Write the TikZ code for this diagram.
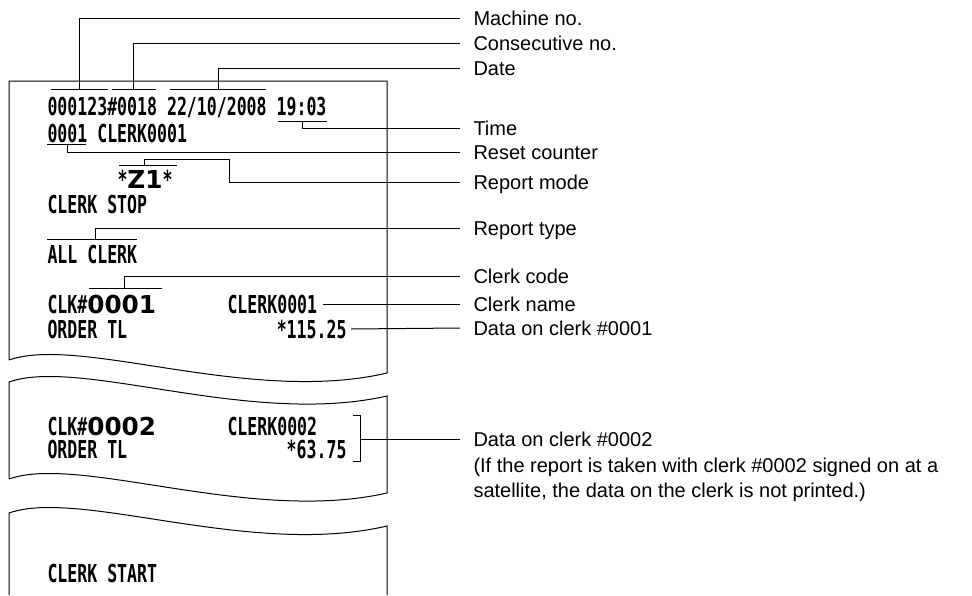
\documentclass[tikz,border=0pt]{standalone}
\usepackage{fontspec}
\usepackage{tikz}
\setmainfont{Liberation Sans}
\newfontfamily\rcptfont[FakeStretch=0.67]{DejaVu Sans Mono}
\newfontfamily\widefont{DejaVu Sans}
\newcommand{\rfont}{\rcptfont\bfseries\fontsize{24.7}{26}\selectfont}
\newcommand{\wfont}{\widefont\bfseries\fontsize{24.7}{26}\selectfont}

\begin{document}
\begin{tikzpicture}[x=1pt, y=-1pt, line width=1pt,
    rcpt/.style={inner sep=0pt, anchor=base west, font=\rfont, text height=18pt, text depth=0pt},
    lbl/.style={anchor=west, inner xsep=13pt, inner ysep=0pt, font=\fontsize{20}{25}\selectfont, text height=14.3pt, text depth=0pt}]
    \useasboundingbox (0,0) rectangle (972,595);

    % paper strips
    \draw (9,360) -- (9,81) -- (387,81) -- (387,373) .. controls (250,405) and (80,335) .. (9,360);
    \draw (9,479) -- (9,382) .. controls (80,357) and (250,427) .. (387,396) -- (387,493) .. controls (250,524) and (80,454) .. (9,479);
    \draw (9,595) -- (9,513) .. controls (80,488) and (250,558) .. (387,526) -- (387,595);

    % printed lines
    \node[rcpt] (row1) at (47,115) {000123\#0018 22/10/2008 19:03};
    \node[rcpt] (row2) at (47,142) {0001 CLERK0001};
    \node[rcpt] (zmode) at (117,188) {*{\wfont Z1}*};
    \node[rcpt] (stop) at (47,213) {CLERK STOP};
    \node[rcpt] (allclk) at (47,263) {ALL CLERK};
    \node[rcpt] (clk1) at (47,313) {CLK\#{\wfont 0001}};
    \node[rcpt] (name1) at (227,313) {CLERK0001};
    \node[rcpt] (ord1) at (47,338) {ORDER TL};
    \node[rcpt, anchor=base east] (amt1) at (347,338) {*115.25};
    \node[rcpt] (clk2) at (47,435) {CLK\#{\wfont 0002}};
    \node[rcpt] (name2) at (227,435) {CLERK0002};
    \node[rcpt] (ord2) at (47,458) {ORDER TL};
    \node[rcpt, anchor=base east] (amt2) at (347,458) {*63.75};
    \node[rcpt] (start) at (47,582) {CLERK START};

    % labels
    \node[lbl] (lmach) at (460,18) {Machine no.};
    \node[lbl] (lcons) at (460,43) {Consecutive no.};
    \node[lbl] (ldate) at (460,68) {Date};
    \node[lbl] (ltime) at (460,128) {Time};
    \node[lbl] (lreset) at (460,152) {Reset counter};
    \node[lbl] (lmode) at (460,182) {Report mode};
    \node[lbl] (ltype) at (460,228) {Report type};
    \node[lbl] (lcode) at (460,276) {Clerk code};
    \node[lbl] (lname) at (460,304) {Clerk name};
    \node[lbl] (ldata1) at (460,328) {Data on clerk \#0001};
    \node[lbl] (ldata2) at (460,439) {Data on clerk \#0002};
    \node[lbl] (lnote1) at (460,465) {(If the report is taken with clerk \#0002 signed on at a};
    \node[lbl] (lnote2) at (460,490) {satellite, the data on the clerk is not printed.)};

    % over- and underlines
    \draw (51,89) -- (108,89) (112,89) -- (156,89) (170,89) -- (266,89);
    \draw (278,121) -- (327,121) (47,144) -- (86,144);
    \draw (119,165) -- (177,165) (47,239) -- (137,239) (89,288) -- (162,288);
    \draw (353,415) -- (360,415) -- (360,461) -- (353,461);

    \coordinate (mach) at (79,89);
    \coordinate (cons) at (133,89);
    \coordinate (date) at (218,89);
    \coordinate (time) at (302,121);
    \coordinate (reset) at (67,144);
    \coordinate (mode) at (144,165);
    \coordinate (type) at (95,239);
    \coordinate (code) at (124,288);
    \coordinate (brk) at (360,439);

    % connectors
    \draw (mach) |- (lmach.west);
    \draw (cons) |- (lcons.west);
    \draw (date) |- (ldate.west);
    \draw (time) |- (ltime.west);
    \draw (reset) |- (lreset.west);
    \draw (mode) -- ++(0,-6) -| (229,182) -- (lmode.west);
    \draw (type) |- (ltype.west);
    \draw (code) |- (lcode.west);
    \draw ([xshift=5pt]name1.east) -- (lname.west);
    \draw ([xshift=4pt]amt1.east) -- (ldata1.west);
    \draw (brk) -- (ldata2.west);
\end{tikzpicture}
\end{document}
